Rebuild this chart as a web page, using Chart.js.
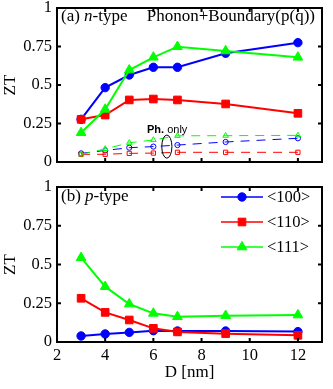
<!DOCTYPE html>
<html><head><meta charset="utf-8">
<script src="https://cdn.jsdelivr.net/npm/chart.js@4/dist/chart.umd.min.js"></script>
<style>
html,body{margin:0;padding:0;background:#fff;}
#wrap{position:relative;width:333px;height:389px;background:#fff;}
canvas{position:absolute;left:0;}
</style></head><body>
<div id="wrap">
<canvas id="nType" width="333" height="175" style="top:0"></canvas>
<canvas id="pType" width="333" height="214" style="top:175px"></canvas>
</div>
<script>
// Wire diameter D [nm]
const diameters = [3, 4, 5, 6, 7, 9, 12];
const xTicks = [2, 4, 6, 8, 10, 12];
const yTicks = [0, 0.25, 0.5, 0.75, 1];
const yTickLabels = ['0', '0.25', '0.5', '0.75', '1'];
const seriesNames = ['<100>', '<110>', '<111>'];

// n-type ZT, phonon + boundary scattering
const nBoundary100 = [0.277, 0.483, 0.565, 0.615, 0.615, 0.706, 0.775];
const nBoundary110 = [0.277, 0.305, 0.403, 0.409, 0.403, 0.377, 0.316];
const nBoundary111 = [0.19, 0.342, 0.597, 0.68, 0.749, 0.721, 0.68];

// n-type ZT, phonon scattering only
const nPhonon100 = [0.056, 0.075, 0.093, 0.1, 0.11, 0.13, 0.154];
const nPhonon110 = [0.05, 0.05, 0.056, 0.058, 0.063, 0.063, 0.063];
const nPhonon111 = [0.05, 0.085, 0.125, 0.143, 0.17, 0.171, 0.173];

// p-type ZT
const p100 = [0.039, 0.052, 0.062, 0.073, 0.071, 0.071, 0.067];
const p110 = [0.282, 0.191, 0.142, 0.088, 0.065, 0.054, 0.043];
const p111 = [0.544, 0.357, 0.245, 0.185, 0.163, 0.17, 0.174];

const BLUE = '#0000ff', RED = '#ff0000', GREEN = '#00ff00';
const SERIF = '"Liberation Serif", "Times New Roman", serif';
const SANS = '"Liberation Sans", Arial, sans-serif';
const tickFont = { family: SERIF, size: 16.5 };

const styles = [
  { color: BLUE, point: 'circle', r: 4.2, rOpen: 2.6 },
  { color: RED, point: 'rect', r: 5.4, rOpen: 3.0 },
  { color: GREEN, point: 'triangle', r: 5.6, rOpen: 3.2 }
];

const toXY = vals => vals.map((y, i) => ({ x: diameters[i], y }));

function solidSet(idx, vals) {
  const s = styles[idx];
  return {
    label: seriesNames[idx], data: toXY(vals),
    borderColor: s.color, backgroundColor: s.color, borderWidth: 2,
    pointStyle: s.point, pointRadius: s.r, pointHoverRadius: s.r,
    pointBackgroundColor: s.color, pointBorderColor: s.color, pointBorderWidth: 1,
    tension: 0, order: 3 - idx
  };
}
function dashedSet(idx, vals) {
  const s = styles[idx];
  return {
    label: seriesNames[idx] + ' Ph. only', data: toXY(vals),
    borderColor: s.color, backgroundColor: 'rgba(0,0,0,0)', borderWidth: 1,
    borderDash: [9, 7],
    pointStyle: s.point, pointRadius: s.rOpen, pointHoverRadius: s.rOpen,
    pointBackgroundColor: 'rgba(0,0,0,0)', pointBorderColor: s.color, pointBorderWidth: 1,
    tension: 0, order: 6 - idx
  };
}

// Frame with inward tick marks on all four sides
const framePlugin = {
  id: 'frame',
  afterDatasetsDraw(chart) {
    const { ctx, chartArea: a, scales: { x, y } } = chart;
    ctx.save();
    ctx.strokeStyle = '#000';
    ctx.lineWidth = 2;
    ctx.strokeRect(a.left, a.top, a.right - a.left, a.bottom - a.top);
    const L = 4;
    ctx.beginPath();
    x.ticks.forEach(t => {
      const px = x.getPixelForValue(t.value);
      ctx.moveTo(px, a.bottom); ctx.lineTo(px, a.bottom - L);
      ctx.moveTo(px, a.top); ctx.lineTo(px, a.top + L);
    });
    y.ticks.forEach(t => {
      const py = y.getPixelForValue(t.value);
      ctx.moveTo(a.left, py); ctx.lineTo(a.left + L, py);
      ctx.moveTo(a.right, py); ctx.lineTo(a.right - L, py);
    });
    ctx.stroke();
    ctx.restore();
  }
};

// Panel label such as "(a) n-type" with an italic carrier letter
function drawPanelLabel(ctx, x, y, prefix, letter, rest) {
  ctx.textBaseline = 'alphabetic';
  ctx.textAlign = 'left';
  ctx.font = '17px ' + SERIF;
  ctx.fillText(prefix, x, y);
  x += ctx.measureText(prefix).width;
  ctx.font = 'italic 17px ' + SERIF;
  ctx.fillText(letter, x, y);
  x += ctx.measureText(letter).width;
  ctx.font = '17px ' + SERIF;
  ctx.fillText(rest, x, y);
}

const nNotes = {
  id: 'nNotes',
  afterDraw(chart) {
    const { ctx, scales: { x, y } } = chart;
    ctx.save();
    ctx.fillStyle = '#000';
    drawPanelLabel(ctx, 61, 21, '(a) ', 'n', '-type');
    ctx.font = '17px ' + SERIF;
    ctx.textAlign = 'right';
    ctx.fillText('Phonon+Boundary(p(q))', 315, 21);
    // "Ph. only" marker around the phonon-only curves
    ctx.textAlign = 'left';
    ctx.font = 'bold 11px ' + SANS;
    ctx.fillText('Ph.', 147, 133);
    const w = ctx.measureText('Ph. ').width;
    ctx.font = '11px ' + SANS;
    ctx.fillText('only', 147 + w, 133);
    const cx = x.getPixelForValue(6.56), cy = y.getPixelForValue(0.1);
    const rx = x.getPixelForValue(6.77) - cx, ry = cy - y.getPixelForValue(0.175);
    ctx.strokeStyle = '#000';
    ctx.lineWidth = 1;
    ctx.beginPath();
    ctx.ellipse(cx, cy, rx, ry, 0, 0, Math.PI * 2);
    ctx.stroke();
    ctx.restore();
  }
};

const pNotes = {
  id: 'pNotes',
  afterDraw(chart) {
    const { ctx } = chart;
    ctx.save();
    ctx.fillStyle = '#000';
    drawPanelLabel(ctx, 61, 26, '(b) ', 'p', '-type');
    // legend: line sample with marker, then the direction label
    const rows = [22, 47, 72];
    chart.data.datasets.forEach((ds, i) => {
      const yy = rows[i];
      ctx.strokeStyle = ds.borderColor;
      ctx.fillStyle = ds.pointBackgroundColor;
      ctx.lineWidth = 1.5;
      ctx.beginPath();
      ctx.moveTo(221, yy); ctx.lineTo(263, yy);
      ctx.stroke();
      ctx.lineWidth = 1;
      Chart.helpers.drawPoint(ctx, { pointStyle: ds.pointStyle, radius: ds.pointRadius, rotation: 0, borderWidth: 1 }, 242, yy);
      ctx.fillStyle = '#000';
      ctx.font = '16.5px ' + SERIF;
      ctx.textAlign = 'left';
      ctx.textBaseline = 'middle';
      ctx.fillText(ds.label, 267, yy + 1);
    });
    ctx.restore();
  }
};

function makeOptions(showX, xAxisHeight, padTop) {
  return {
    responsive: false, animation: false, devicePixelRatio: 1,
    layout: { padding: { left: 0, right: 11, top: padTop, bottom: 0 } },
    plugins: { legend: { display: false }, tooltip: { enabled: false } },
    events: [],
    scales: {
      x: {
        type: 'linear', min: 2, max: 13,
        afterBuildTicks: s => { s.ticks = xTicks.map(v => ({ value: v })); },
        grid: { display: false, drawTicks: false }, border: { display: false },
        ticks: { display: showX, font: tickFont, color: '#000', padding: 4, maxRotation: 0, autoSkip: false },
        title: { display: showX, text: 'D [nm]', font: { family: SERIF, size: 17 }, color: '#000', padding: { top: 6, bottom: 6 } },
        afterFit: s => { s.height = xAxisHeight; s.paddingLeft = 0; s.paddingRight = 0; }
      },
      y: {
        type: 'linear', min: 0, max: 1,
        afterBuildTicks: s => { s.ticks = yTicks.map(v => ({ value: v })); },
        grid: { display: false, drawTicks: false }, border: { display: false },
        ticks: { font: tickFont, color: '#000', padding: 5, callback: v => yTickLabels[yTicks.indexOf(v)] },
        title: { display: true, text: 'ZT', font: { family: SERIF, size: 17 }, color: '#000', padding: { top: 0, bottom: 0 } },
        afterFit: s => { s.width = 57; s.paddingTop = 0; s.paddingBottom = 0; }
      }
    }
  };
}

new Chart(document.getElementById('nType'), {
  type: 'line',
  data: {
    datasets: [
      solidSet(0, nBoundary100), solidSet(1, nBoundary110), solidSet(2, nBoundary111),
      dashedSet(0, nPhonon100), dashedSet(1, nPhonon110), dashedSet(2, nPhonon111)
    ]
  },
  options: makeOptions(false, 13, 8),
  plugins: [framePlugin, nNotes]
});

new Chart(document.getElementById('pType'), {
  type: 'line',
  data: { datasets: [solidSet(0, p100), solidSet(1, p110), solidSet(2, p111)] },
  options: makeOptions(true, 47, 12),
  plugins: [framePlugin, pNotes]
});
</script>
</body></html>
